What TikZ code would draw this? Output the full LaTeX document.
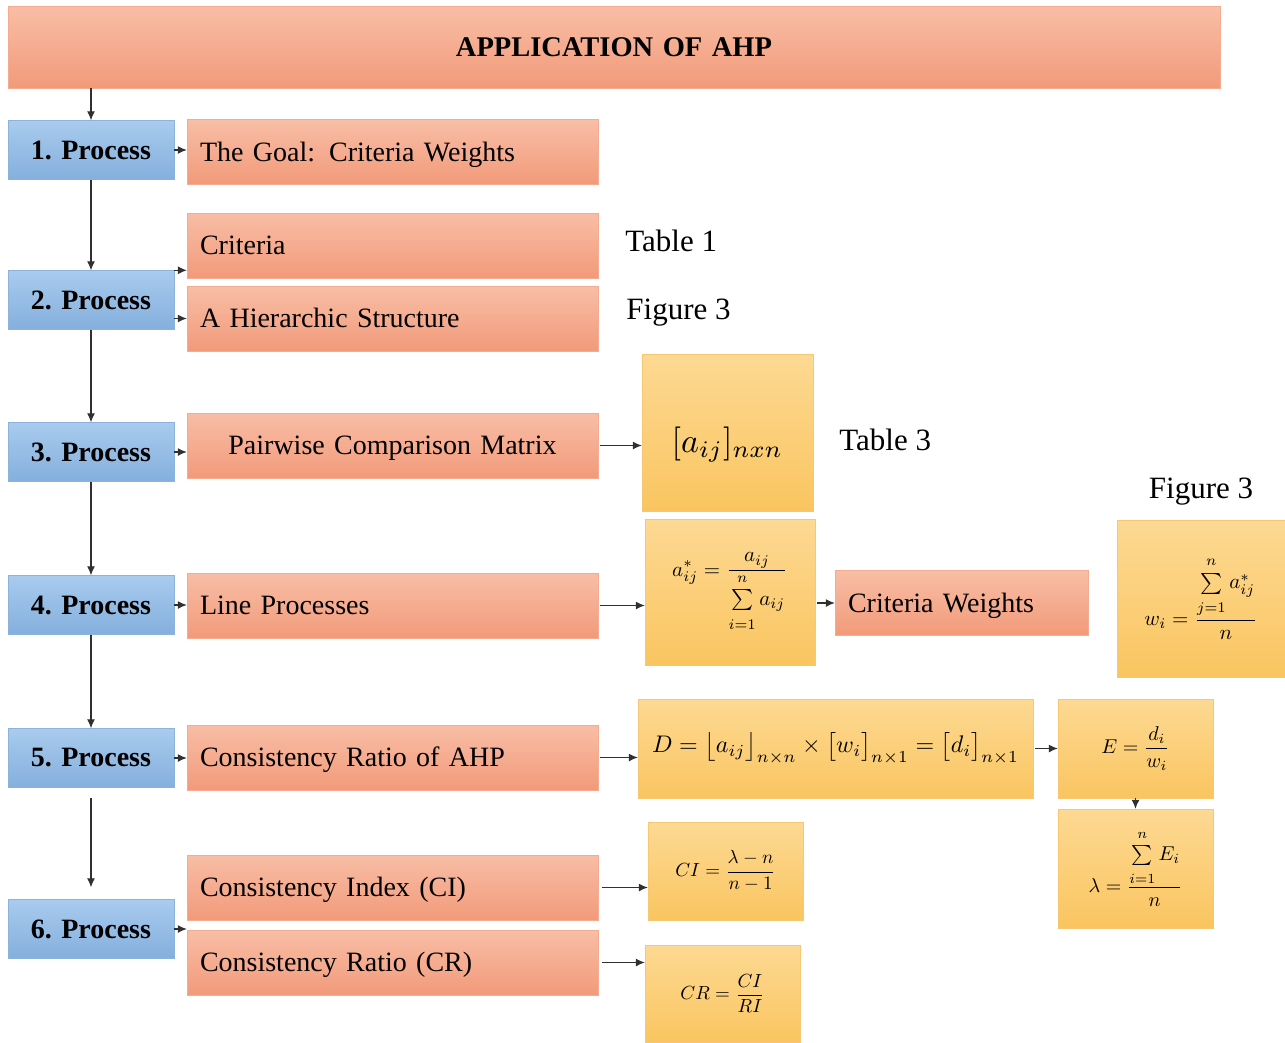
\documentclass[tikz,border=0pt]{standalone}
\usepackage{amsmath}
\usepackage{graphicx}
\usepackage{fontspec}
\setmainfont{Liberation Serif}
\usepackage{xcolor}
\usepackage{tikz}
\usetikzlibrary{arrows.meta,positioning}

\definecolor{procTop}{HTML}{A9CBEE}
\definecolor{procBot}{HTML}{84AFDD}
\definecolor{procLine}{HTML}{8BB3DC}
\definecolor{salTop}{HTML}{F8BEA6}
\definecolor{salBot}{HTML}{F29A7A}
\definecolor{salLine}{HTML}{F4AB90}
\definecolor{goldTop}{HTML}{FDD993}
\definecolor{goldBot}{HTML}{FAC560}
\definecolor{goldLine}{HTML}{F7C874}
\definecolor{arrowGray}{HTML}{303030}

\newcommand\titletxt{\fontsize{28.5}{32}\selectfont\bfseries}
\newcommand\proctxt{\fontsize{28}{32}\selectfont\bfseries}
\newcommand\boxtxt{\fontsize{28}{32}\selectfont}
\newcommand\lbltxt{\fontsize{31}{36}\selectfont}
% formulas are set at 10pt and scaled up
\newcommand\eqn[2]{\scalebox{#1}{$#2$}}
\newcommand\limsum[2]{\sum\limits_{\rule{0pt}{7pt}#1}^{\rule[-2.5pt]{0pt}{2.5pt}#2}}

\begin{document}
\begin{tikzpicture}[
  x=1pt, y=-1pt,
  procbox/.style={draw=procLine, top color=procTop, bottom color=procBot, minimum width=166pt, minimum height=59pt, inner sep=0pt, font=\proctxt},
  salbox/.style={draw=salLine, top color=salTop, bottom color=salBot, minimum height=65pt, text width=385pt, inner xsep=13pt, align=left, text height=22pt, text depth=4pt, font=\boxtxt},
  goldbox/.style={draw=goldLine, top color=goldTop, bottom color=goldBot, inner sep=0pt, font=\normalsize},
  lbl/.style={font=\lbltxt, inner sep=0pt},
  arrow/.style={-{Latex[length=9pt,width=8pt]}, line width=1.1pt, draw=arrowGray}
]
\useasboundingbox (0,0) rectangle (1285,1042);

\node[salbox, text width=1186pt, align=center, minimum height=82pt, font=\titletxt] (title) at (614,47) {APPLICATION OF AHP};

% process column
\node[procbox] (p1) at (91,150) {1. Process};
\node[procbox] (p2) at (91,300) {2. Process};
\node[procbox] (p3) at (91,452) {3. Process};
\node[procbox] (p4) at (91,605) {4. Process};
\node[procbox] (p5) at (91,758) {5. Process};
\node[procbox] (p6) at (91,929) {6. Process};

% steps
\node[salbox] (goal) at (392.5,152) {The Goal: Criteria Weights};
\node[salbox] (crit) at (392.5,245.5) {Criteria};
\node[salbox] (hier) at (392.5,318.5) {A Hierarchic Structure};
\node[salbox, align=center] (pair) at (392.5,445.5) {Pairwise Comparison Matrix};
\node[salbox] (line) at (392.5,605.5) {Line Processes};
\node[salbox] (cra) at (392.5,757.5) {Consistency Ratio of AHP};
\node[salbox] (ci) at (392.5,887.5) {Consistency Index (CI)};
\node[salbox] (cr) at (392.5,962.5) {Consistency Ratio (CR)};
\node[salbox, text width=227pt] (cw) at (961.5,603) {Criteria Weights};

% formulas
\node[goldbox, minimum width=171pt, minimum height=157pt, text height=40pt, text depth=0pt] (aij) at (727.5,432.5) {\eqn{3.4}{[a_{ij}]_{nxn}}};
\node[goldbox, minimum width=170pt, minimum height=146pt] (astar) at (730,592) {\eqn{2.1}{\displaystyle a^{*}_{ij}=\frac{a_{ij}}{\limsum{i=1}{n}a_{ij}}}};
\node[goldbox, minimum width=168pt, minimum height=157pt] (wi) at (1201,598.5) {\eqn{2.1}{\displaystyle w_i=\frac{\limsum{j=1}{n}a^{*}_{ij}}{n}}};
\node[goldbox, minimum width=395pt, minimum height=99pt] (dm) at (835.5,748.5) {\eqn{2.4}{D=\big\lfloor a_{ij}\big\rfloor_{n\times n}\times\big[w_i\big]_{n\times 1}=\big[d_i\big]_{n\times 1}}};
\node[goldbox, minimum width=155pt, minimum height=99pt] (e) at (1135.5,748.5) {\eqn{2.0}{E=\dfrac{d_i}{w_i}}};
\node[goldbox, minimum width=155pt, minimum height=119pt] (lam) at (1135.5,868.5) {\eqn{2.0}{\displaystyle\lambda=\frac{\limsum{i=1}{n}E_i}{n}}};
\node[goldbox, minimum width=155pt, minimum height=98pt] (cif) at (725.5,871) {\eqn{1.9}{CI=\dfrac{\lambda-n}{n-1}}};
\node[goldbox, minimum width=155pt, minimum height=97pt] (crf) at (722.5,993.5) {\eqn{1.9}{CR=\dfrac{CI}{RI}}};

% references
\node[lbl, right=27pt of crit, yshift=5pt] (tab1) {Table 1};
\node[lbl, right=28pt of hier, yshift=6pt] (fig3a) {Figure 3};
\node[lbl, right=26pt of aij, yshift=-7pt] (tab3) {Table 3};
\node[lbl, above=14pt of wi] (fig3b) {Figure 3};

% flow
\draw[arrow] (p1 |- title.south) -- (p1);
\draw[arrow] (p1) -- (p2);
\draw[arrow] (p2) -- (p3);
\draw[arrow] (p3) -- (p4);
\draw[arrow] (p4) -- (p5);
\draw[arrow, shorten <=10pt, shorten >=12pt] (p5) -- (p6);

\draw[arrow] (p1.east) -- (p1.east -| goal.west);
\draw[arrow] (p2.north east) -- (p2.north east -| crit.west);
\draw[arrow] (p2.east |- hier.west) -- (hier.west);
\draw[arrow] (p3.east) -- (p3.east -| pair.west);
\draw[arrow] (p4.east) -- (p4.east -| line.west);
\draw[arrow] (p5.east) -- (p5.east -| cra.west);
\draw[arrow] (p6.east) -- (p6.east -| ci.west);

\draw[arrow, shorten <=2pt] (pair.east) -- (pair.east -| aij.west);
\draw[arrow, shorten <=2pt] (line.east) -- (line.east -| astar.west);
\draw[arrow, shorten <=2pt] (astar.east |- cw.west) -- (cw.west);
\draw[arrow, shorten <=2pt] (cra.east) -- (cra.east -| dm.west);
\draw[arrow, shorten <=2pt] (dm) -- (e);
\draw[arrow] (e) -- (lam);
\draw[arrow, shorten <=4pt] (ci.east) -- (ci.east -| cif.west);
\draw[arrow, shorten <=4pt] (cr.east) -- (cr.east -| crf.west);
\end{tikzpicture}
\end{document}
